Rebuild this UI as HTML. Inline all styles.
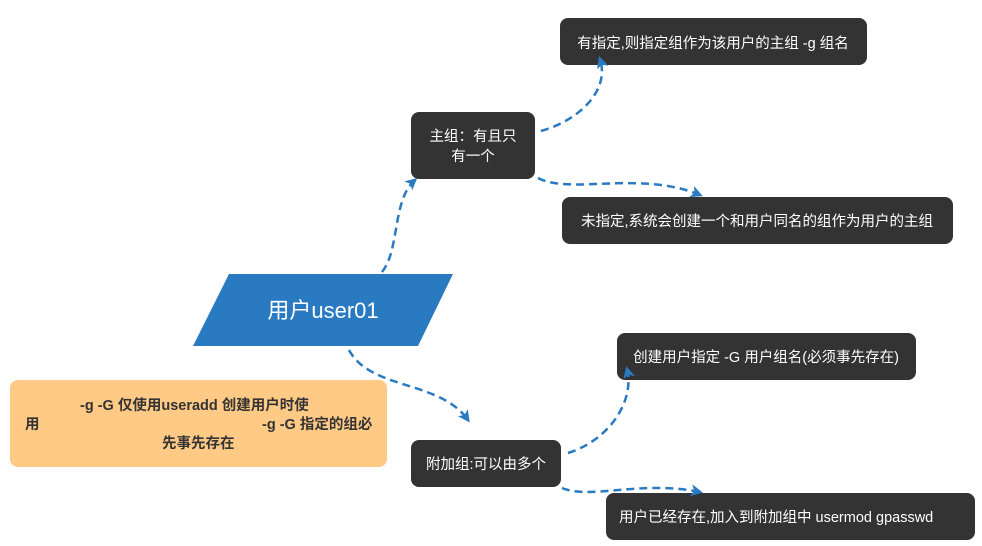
<!DOCTYPE html>
<html><head><meta charset="utf-8"><style>
html,body{margin:0;padding:0;background:#fff;}
svg{display:block;}
text{font-family:"Liberation Sans","Noto Sans CJK SC",sans-serif;}
</style></head><body>
<svg width="982" height="546" viewBox="0 0 982 546" xmlns="http://www.w3.org/2000/svg">
<defs>
<marker id="a" markerWidth="14" markerHeight="14" refX="9" refY="6" orient="auto" markerUnits="userSpaceOnUse">
<path d="M0,0 L12,6 L0,12 L3,6 Z" fill="#2a7ac2"/>
</marker>
</defs>
<polygon points="229,274 453,274 418,346 193,346" fill="#2a7ac2"/>
<text x="323" y="318" font-size="22" fill="#fff" text-anchor="middle">用户user01</text>
<rect x="411" y="112" width="124" height="67" rx="8" fill="#333"/>
<text x="473" y="141" font-size="14.5" fill="#fff" text-anchor="middle">主组：有且只</text>
<text x="473" y="161" font-size="14.5" fill="#fff" text-anchor="middle">有一个</text>
<rect x="560" y="18" width="307" height="47" rx="8" fill="#333"/>
<text x="713" y="48" font-size="14.5" fill="#fff" text-anchor="middle">有指定,则指定组作为该用户的主组 -g 组名</text>
<rect x="562" y="197" width="391" height="47" rx="8" fill="#333"/>
<text x="757" y="226" font-size="14.5" fill="#fff" text-anchor="middle">未指定,系统会创建一个和用户同名的组作为用户的主组</text>
<rect x="617" y="333" width="299" height="47" rx="8" fill="#333"/>
<text x="766" y="362" font-size="14.5" fill="#fff" text-anchor="middle">创建用户指定 -G 用户组名(必须事先存在)</text>
<rect x="411" y="440" width="150" height="47" rx="8" fill="#333"/>
<text x="486" y="469" font-size="14.5" fill="#fff" text-anchor="middle">附加组:可以由多个</text>
<rect x="606" y="493" width="369" height="47" rx="8" fill="#333"/>
<text x="619" y="522" font-size="14.5" fill="#fff">用户已经存在,加入到附加组中  usermod gpasswd</text>
<rect x="10" y="380" width="377" height="87" rx="8" fill="#ffca86"/>
<g font-size="14.5" font-weight="bold" fill="#333">
<text x="80" y="410">-g -G 仅使用useradd 创建用户时使</text>
<text x="25" y="429">用</text>
<text x="262" y="429">-g -G 指定的组必</text>
<text x="162" y="448">先事先存在</text>
</g>
<g fill="none" stroke="#2a7ac2" stroke-width="2.5" stroke-dasharray="8,5" marker-end="url(#a)">
<path d="M382,272 C400,250 392,200 415,180"/>
<path d="M541,131 C580,120 610,90 600,59"/>
<path d="M538,178 C570,195 640,170 700,195"/>
<path d="M349,350 C370,390 440,380 468,420"/>
<path d="M568,453 C610,440 635,400 627,369"/>
<path d="M562,488 C590,500 640,480 700,492"/>
</g>
</svg>
</body></html>
